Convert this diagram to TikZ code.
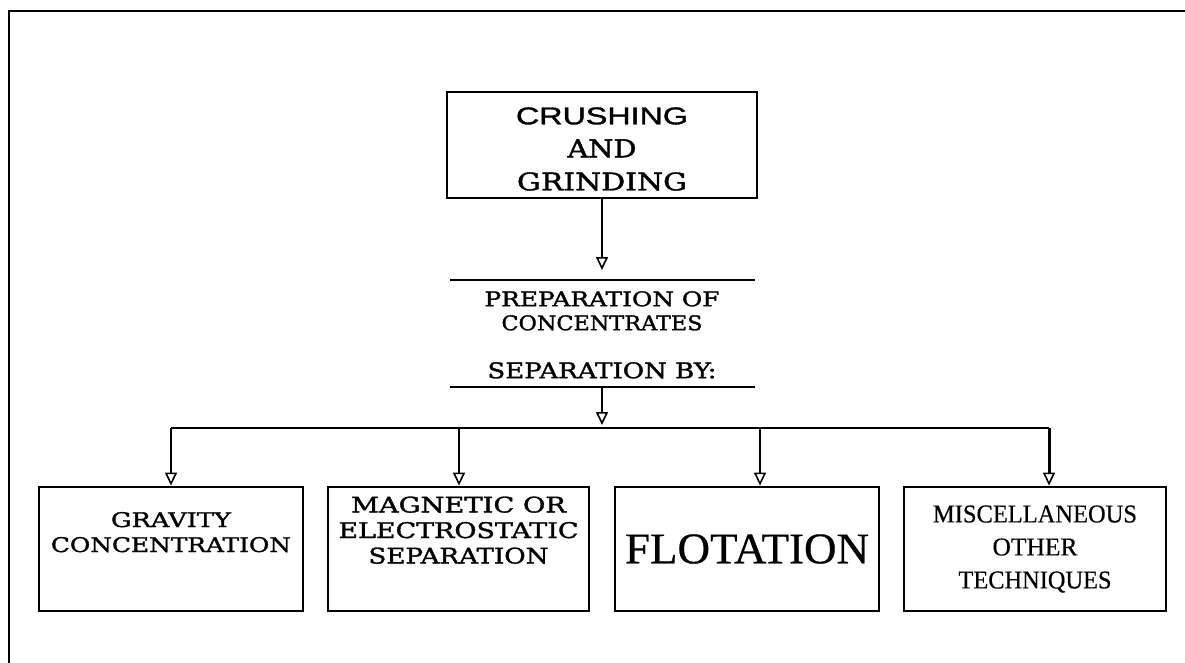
\documentclass[tikz,border=0pt]{standalone}
\usepackage{fontspec}
\usepackage{graphicx}
\setmainfont[FakeBold=0.5]{Liberation Serif}
\newfontfamily\slabfont[FakeBold=1.4]{DejaVu Serif}
\newfontfamily\crsans[FakeBold=1.2]{Liberation Sans}
\usetikzlibrary{arrows.meta}
\newcommand\fitline[3]{\resizebox{#1pt}{#2pt}{#3}}
\begin{document}
\begin{tikzpicture}[x=1pt,y=-1pt,
  box/.style={draw,line width=2.8pt,rectangle,inner sep=0pt,minimum height=124pt,align=center},
  conn/.style={line width=2.4pt},
  arr/.style={conn,-{Triangle[open,width=12pt,length=13pt,line width=1.6pt]}},
  rulel/.style={line width=2.6pt},
  lbl/.style={inner sep=0pt,align=center}]
\useasboundingbox (0,0) rectangle (1185,663);
\draw[line width=2.8pt] (1185,11) -- (9,11) -- (9,663);
% top box
\node[box,minimum width=310pt,minimum height=106pt,font=\fontsize{10}{33}\selectfont] (crush) at (602,145)
  {\rule{0pt}{25pt}{\crsans\fitline{172}{17}{CRUSHING}}\\{\slabfont\fitline{69}{18}{AND}}\\{\slabfont\fitline{170}{18}{GRINDING}}};
% rules
\coordinate (r1l) at (450,280); \coordinate (r1r) at (755,280); \coordinate (r1) at (602,280);
\coordinate (r2l) at (450,387); \coordinate (r2r) at (755,387); \coordinate (r2) at (602,387);
\draw[rulel] (r1l) -- (r1r);
\draw[rulel] (r2l) -- (r2r);
\draw[arr,shorten >=10pt] (crush.south) -- (r1);
\node[lbl,anchor=north,font=\fontsize{10}{24}\selectfont] (prep) at (602,291)
  {{\slabfont\fitline{235}{15}{PREPARATION OF}}\\{\slabfont\fitline{201}{15}{CONCENTRATES}}};
\node[lbl,anchor=north] (sepby) at (602,362) {\slabfont\fitline{229}{16}{SEPARATION BY:}};
% bus
\coordinate (bus) at (602,428);
\coordinate (b1) at (171,428); \coordinate (b2) at (459,428);
\coordinate (b3) at (760,428); \coordinate (b4) at (1049,428);
\draw[arr,shorten >=3pt] (r2) -- (bus);
\draw[conn] (b1) -- (b4);
% bottom boxes
\node[box,minimum width=264pt,font=\fontsize{10}{25}\selectfont] (grav) at (171,549)
  {{\slabfont\fitline{120}{15}{GRAVITY}}\\{\slabfont\fitline{240}{15}{CONCENTRATION}}\rule[-34pt]{0pt}{34pt}};
\node[box,minimum width=261pt,font=\fontsize{10}{25.5}\selectfont] (mag) at (458.5,549)
  {{\slabfont\fitline{215}{16}{MAGNETIC OR}}\\{\slabfont\fitline{240}{16}{ELECTROSTATIC}}\\{\slabfont\fitline{180}{16}{SEPARATION}}\rule[-38pt]{0pt}{38pt}};
\node[box,minimum width=264pt] (flot) at (747,549) {\fitline{244}{29}{FLOTATION}};
\node[box,minimum width=262pt,font=\fontsize{10}{33}\selectfont] (misc) at (1035,549)
  {\fitline{204}{17}{MISCELLANEOUS}\\\fitline{85}{17}{OTHER}\\\fitline{153}{17}{TECHNIQUES}};
\draw[arr] (b1) -- (b1 |- grav.north);
\draw[arr] (b2) -- (b2 |- mag.north);
\draw[arr] (b3) -- (b3 |- flot.north);
\draw[arr,line width=3pt] (b4) -- (b4 |- misc.north);
\end{tikzpicture}
\end{document}
